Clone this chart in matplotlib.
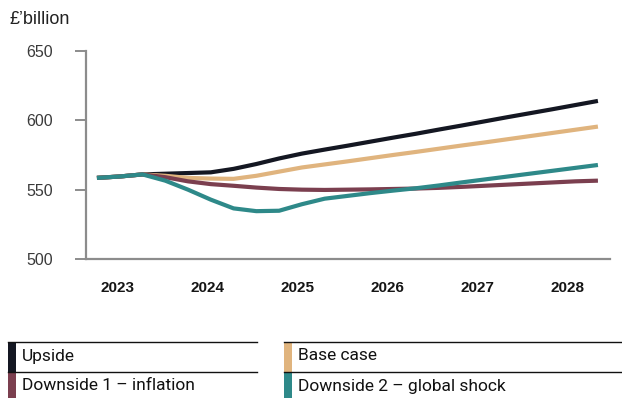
import numpy as np
import matplotlib.pyplot as plt
from matplotlib.lines import Line2D
from matplotlib.patches import Rectangle

# quarterly projections, £ billion
upside = [558.5, 559.5, 561.0, 561.5, 562.0, 562.5, 565.0, 568.5, 572.5, 576.0, 578.9, 581.7,
          584.6, 587.5, 590.3, 593.3, 596.2, 599.2, 602.2, 605.1, 608.0, 611.0, 614.0]
base_case = [558.5, 559.5, 561.0, 560.0, 558.5, 558.0, 557.8, 560.0, 563.0, 566.0, 568.2, 570.4,
             572.7, 575.0, 577.2, 579.5, 581.8, 584.0, 586.3, 588.6, 590.9, 593.2, 595.5]
downside_inflation = [558.5, 559.5, 561.0, 559.0, 556.0, 554.0, 552.8, 551.5, 550.5, 550.0, 549.8, 550.0,
                      550.2, 550.5, 550.8, 551.3, 552.0, 552.8, 553.6, 554.4, 555.2, 556.0, 556.5]
downside_shock = [558.5, 559.5, 561.0, 556.5, 550.0, 542.8, 536.5, 534.5, 534.8, 539.5, 543.5, 545.5,
                  547.5, 549.3, 551.0, 553.0, 555.2, 557.3, 559.4, 561.5, 563.6, 565.7, 567.8]

year_labels = ['2023', '2024', '2025', '2026', '2027', '2028']
y_ticks = [500, 550, 600, 650]

series_names = ['Upside', 'Base case', 'Downside 1 – inflation', 'Downside 2 – global shock']
colors = ['#141722', '#e0b47e', '#7b3f4f', '#2e8989']

W, H = 622, 398
fig = plt.figure(figsize=(W / 100, H / 100), dpi=100)

def fx(px):
    return px / W

def fy(py):
    return 1 - py / H

ax = fig.add_axes([fx(86), fy(259), fx(610) - fx(86), fy(51) - fy(259)])

quarters = np.arange(len(upside))
for vals, col in zip([upside, base_case, downside_inflation, downside_shock], colors):
    ax.plot(quarters, vals, color=col, lw=3.0, solid_capstyle='butt', solid_joinstyle='round')

ax.set_ylim(500, 650)
ax.set_xlim(-0.48, 22.53)
ax.set_yticks(y_ticks)
ax.set_yticklabels([str(v) for v in y_ticks], fontsize=11.5, color='#3a3a3a', family='Liberation Sans')

# year labels sit roughly one quarter into each year
tick_pos = 0.92 + 3.95 * np.arange(len(year_labels))
ax.set_xticks(tick_pos)
ax.set_xticklabels(year_labels, fontsize=11, color='#151515', family='Liberation Sans',
                   fontweight='bold')

for s in ['top', 'right']:
    ax.spines[s].set_visible(False)
for s in ['left', 'bottom']:
    ax.spines[s].set_color('#8c8c8c')
    ax.spines[s].set_linewidth(1.6)
ax.tick_params(axis='y', length=8, width=1.4, color='#8c8c8c', pad=16)
ax.tick_params(axis='x', length=0, pad=16)

fig.text(fx(10), fy(20), '£’billion', fontsize=13, color='#222222', family='Liberation Sans',
         va='center', ha='left')

# legend block: coloured bar on the left, rule above each row
rows = [(8, 342, 257), (284, 342, 622)]
for i, (name, col) in enumerate(zip(series_names, colors)):
    col_idx = i % 2
    row_idx = i // 2
    x0, ytop, x1 = rows[col_idx]
    y0 = ytop + 30 * row_idx
    fig.add_artist(Rectangle((fx(x0), fy(y0 + 30)), fx(8), fy(y0) - fy(y0 + 30),
                             transform=fig.transFigure, color=col, lw=0))
    fig.add_artist(Line2D([fx(x0), fx(x1)], [fy(y0), fy(y0)], transform=fig.transFigure,
                          color='#111111', lw=1.0))
    fig.text(fx(x0 + 14), fy(y0 + 14), name, fontsize=12.5, color='#111111', family='Roboto',
             va='center', ha='left')

fig.savefig('out.png', dpi=100)
